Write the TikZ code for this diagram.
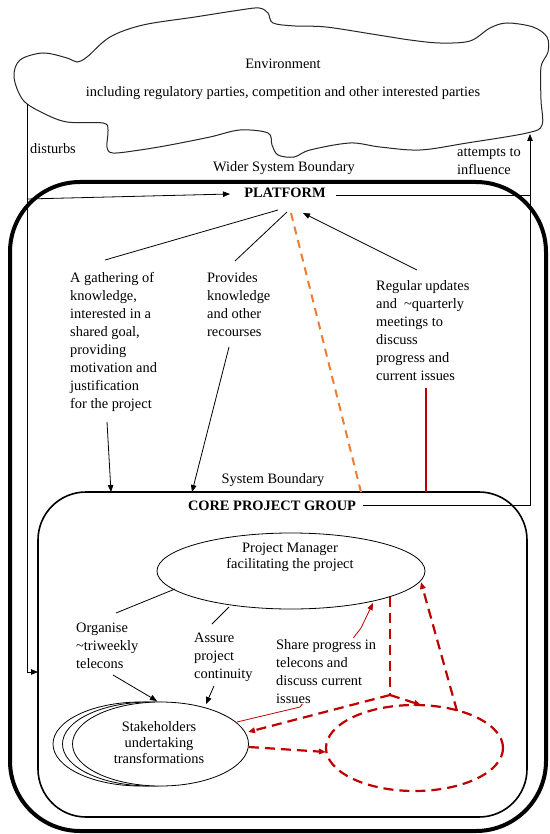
\documentclass[tikz,border=0pt]{standalone}
\usepackage{fontspec}
\setmainfont{Liberation Serif}
\usetikzlibrary{arrows.meta,shapes.geometric}
\definecolor{dred}{RGB}{192,0,0}
\definecolor{orng}{RGB}{237,125,49}
\newcommand{\Lt}[1]{\vtop{\halign{##\hfil\cr#1\crcr}}}
\newcommand{\Ct}[1]{\vtop{\halign{\hfil##\hfil\cr#1\crcr}}}
\tikzset{
  txt/.style={font=\fontsize{14.4}{18}\selectfont, inner sep=0pt},
  lbl/.style={txt, anchor=base west},
  clbl/.style={txt, anchor=base},
  elbl/.style={font=\fontsize{14.4}{16}\selectfont, inner sep=0pt, anchor=base},
  boldlbl/.style={font=\fontsize{14.4}{18}\selectfont\bfseries, inner sep=0pt, anchor=base},
  conn/.style={draw=black, line width=0.8pt},
  tip/.style={-{Triangle[length=7pt,width=5.5pt]}},
  reddash/.style={draw=dred, line width=2.2pt, dash pattern=on 10pt off 6pt},
  orangedash/.style={draw=orng, line width=2pt, dash pattern=on 8pt off 6pt},
  oval/.style={ellipse, draw=black, line width=0.8pt, fill=white, inner sep=0pt},
}
\begin{document}
\begin{tikzpicture}[x=1pt,y=-1pt]
\useasboundingbox (0,0) rectangle (549,834);
\fill[white] (0,0) rectangle (549,834);

% environment cloud
\draw[black!85, line width=1pt] plot[smooth cycle, tension=0.55] coordinates {
 (14,77) (20,60) (43,53) (67,58) (77,62) (87,57) (110,37) (143,25) (195,17) (240,10)
 (259,8) (268,13) (273,23) (295,26) (326,27) (378,35) (410,40) (440,43) (470,41)
 (490,28) (507,23) (533,27) (547,37) (548,52) (541,67) (541,100) (542,125) (527,133)
 (467,143) (420,150) (380,147) (350,143) (310,150) (294,157) (278,155) (272,145)
 (268,133) (240,130) (210,137) (170,145) (140,150) (113,153) (107,147) (108,130)
 (103,123) (67,122) (43,113) (23,100)};
\node[clbl] (env) at (283,69) {Environment};
\node[clbl] (envsub) at (283,97) {including regulatory parties, competition and other interested parties};
\node[lbl] (dist) at (30,154) {disturbs};
\node[lbl] (att) at (457,157) {\Lt{attempts to\cr influence}};
\node[clbl] (wsb) at (284,172) {Wider System Boundary};

% wider system boundary
\draw[line width=4pt, rounded corners=70pt] (10,182) rectangle (546,831);
% core project group boundary
\draw[line width=1.6pt, rounded corners=48pt] (38,492) rectangle (527,817);

% labels
\node[boldlbl] (plat) at (285,198) {PLATFORM};
\node[lbl] (gath) at (70,282) {\Lt{A gathering of\cr knowledge,\cr interested in a\cr shared goal,\cr providing\cr motivation and\cr justification\cr for the project}};
\node[lbl] (prov) at (207,282) {\Lt{Provides\cr knowledge\cr and other\cr recourses}};
\node[lbl] (reg) at (376,290) {\Lt{Regular updates\cr and\ \ \textasciitilde quarterly\cr meetings to\cr discuss\cr progress and\cr current issues}};
\node[clbl] (sb) at (273,483) {System Boundary};
\node[boldlbl] (cpg) at (272,510) {CORE PROJECT GROUP};

% coordinates
\coordinate (envL) at (27,104);
\coordinate (envR) at (530,134);
\coordinate (platIn) at (27,199);
\coordinate (platW) at (230,194);
\coordinate (platE) at (336,195);
\coordinate (platRJ) at (530,195);
\coordinate (cpgL) at (38,672);
\coordinate (cpgE) at (363,505);
\coordinate (platB1) at (278,210);
\coordinate (platB2) at (287,212);
\coordinate (platB3) at (291,213);
\coordinate (platB4) at (303,213);
\coordinate (gathT) at (105,260);
\coordinate (gathB) at (107,422);
\coordinate (cpgT1) at (111,492);
\coordinate (provT) at (235,261);
\coordinate (provB) at (229,347);
\coordinate (cpgT2) at (192,492);
\coordinate (cpgT3) at (361,492);
\coordinate (regT) at (417,270);
\coordinate (regB) at (426,388);
\coordinate (cpgT4) at (426,492);

% environment connectors
\draw[conn,tip] (envL) |- (cpgL);
\draw[conn,tip] (platIn) -- (platW);
\draw[conn,tip] (cpgE) -| (envR);
\draw[conn] (platE) -- (platRJ);

% platform connectors
\draw[conn] (platB1) -- (gathT);
\draw[conn] (platB2) -- (provT);
\draw[conn,tip] (gathB) -- (cpgT1);
\draw[conn,tip] (provB) -- (cpgT2);
\draw[conn,tip] (regT) -- (platB4);
\draw[orangedash] (platB3) -- (cpgT3);
\draw[draw=dred, line width=1.8pt] (regB) -- (cpgT4);

% core group contents
\node[oval, minimum width=268pt, minimum height=76pt] (pm) at (291,571) {};
\node[elbl] (pmtxt) at (290,552) {\Ct{Project Manager\cr facilitating the project}};

\node[oval, minimum width=176pt, minimum height=84pt] (sh3) at (141,744) {};
\node[oval, minimum width=176pt, minimum height=84pt] (sh2) at (150.5,744) {};
\node[oval, minimum width=176pt, minimum height=84pt] (sh) at (160.5,744) {};
\node[elbl] (shtxt) at (159,731) {\Ct{Stakeholders\cr undertaking\cr transformations}};

\node[ellipse, reddash, minimum width=177pt, minimum height=86pt, inner sep=0pt] (new) at (414.5,748) {};

\coordinate (pmB1) at (175,589);
\coordinate (pmB2) at (229,607);
\coordinate (orgT) at (116,613);
\coordinate (assT) at (212,624);
\coordinate (orgB) at (113,675);
\coordinate (assB) at (214,686);
\coordinate (shT1) at (157,701);
\coordinate (shT2) at (206,704);

\node[lbl] (org) at (76,632) {\Lt{Organise\cr \textasciitilde triweekly\cr telecons}};
\node[lbl] (ass) at (194,642) {\Lt{Assure\cr project\cr continuity}};
\draw[conn] (pmB1) -- (orgT);
\draw[conn] (pmB2) -- (assT);
\draw[conn,tip] (orgB) -- (shT1);
\draw[conn,tip] (assB) -- (shT2);

% red thin connector behind the text
\coordinate (shE1) at (237,722);
\coordinate (bend1) at (300,707);
\coordinate (bend2) at (361,628);
\coordinate (pmB3) at (373,603);
\draw[draw=dred, line width=0.8pt, tip] (shE1) -- (bend1) -- (bend2) -- (pmB3);
\node[lbl, fill=white, inner sep=1pt] (share) at (275,649) {\Lt{Share progress in\cr telecons and\cr discuss current\cr issues}};

% red dashed connectors
\coordinate (pmB4) at (390,597);
\coordinate (split) at (390,695);
\coordinate (shE2) at (248,732);
\coordinate (newT) at (421,705);
\coordinate (newT2) at (457,711);
\coordinate (pmB5) at (421,582);
\coordinate (shE3) at (249,747);
\coordinate (newW) at (326,752);
\draw[reddash] (pmB4) -- (split);
\draw[reddash, tip] (split) -- (shE2);
\draw[reddash, tip] (split) -- (newT);
\draw[reddash, tip] (newT2) -- (pmB5);
\draw[reddash, tip] (shE3) -- (newW);
\end{tikzpicture}
\end{document}
